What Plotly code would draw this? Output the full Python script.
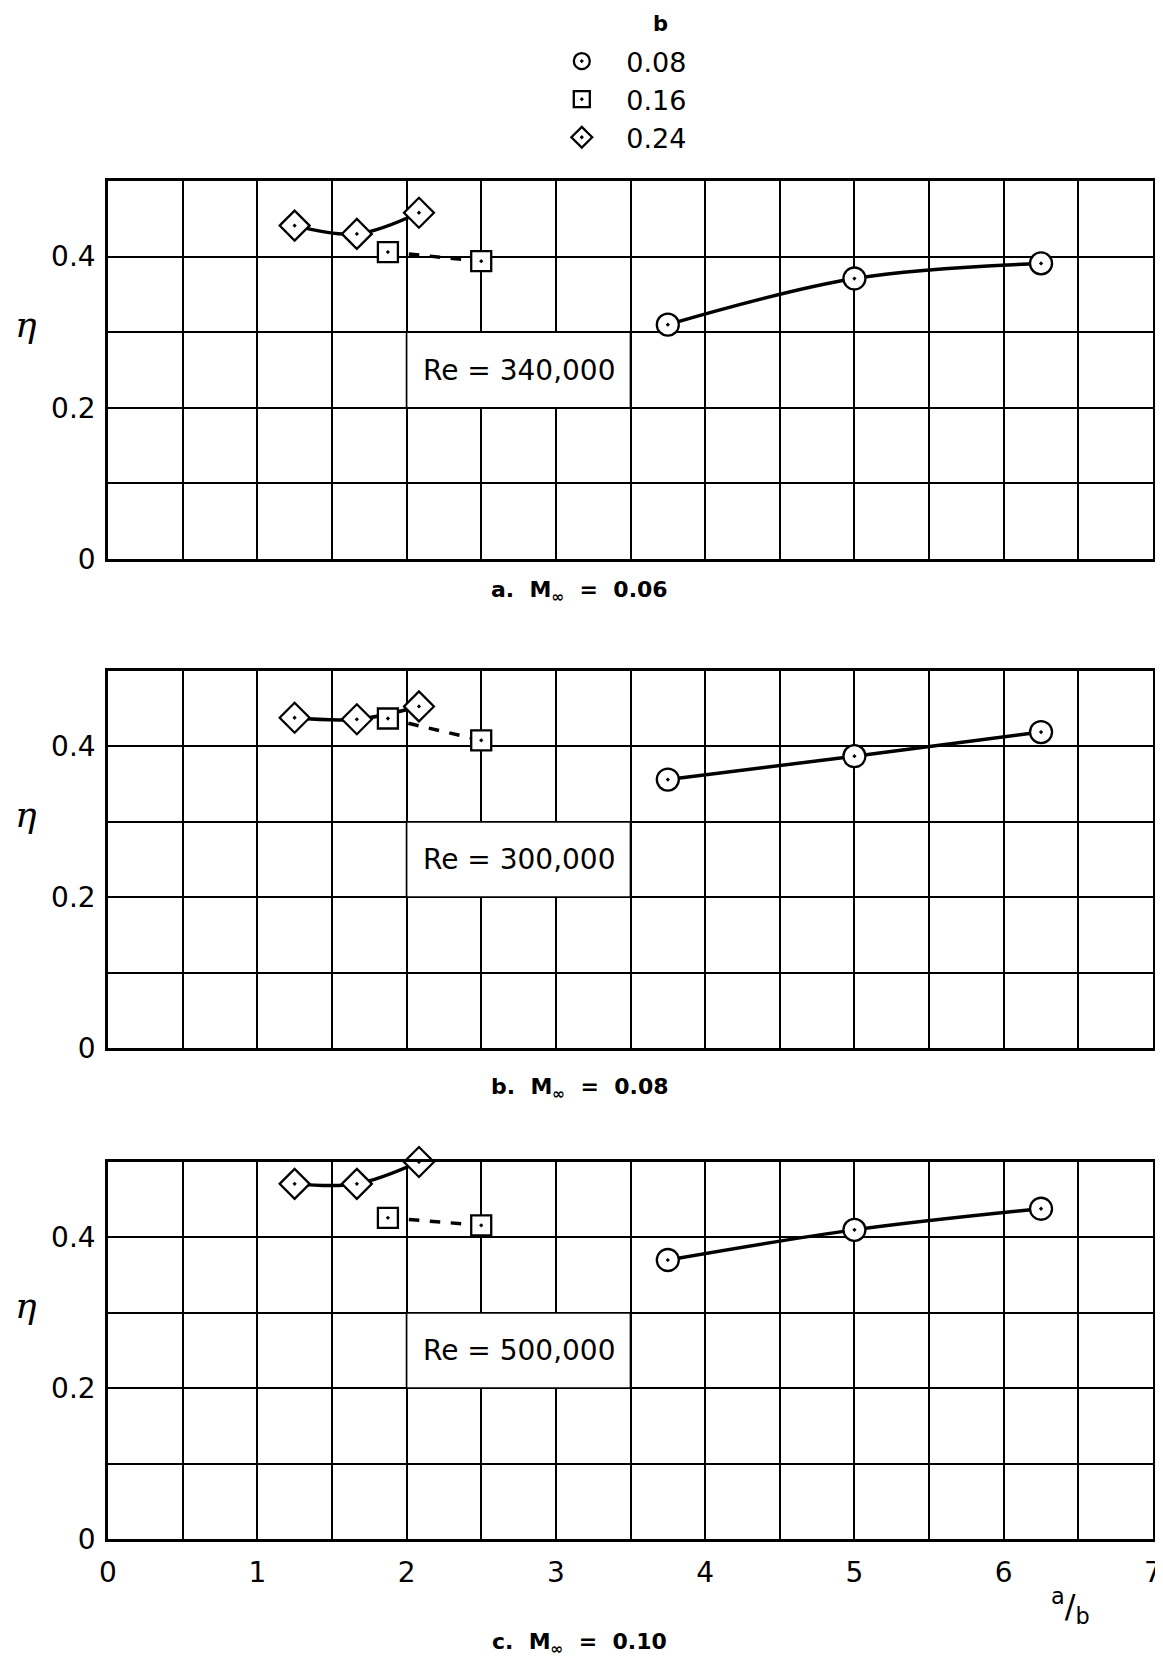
import plotly.graph_objects as go
from plotly.subplots import make_subplots

# ---------------- data ----------------
b_values = ["0.08", "0.16", "0.24"]

x_b08 = [3.75, 5.0, 6.25]
x_b16 = [1.875, 2.5]
x_b24 = [1.25, 1.667, 2.083]

eta_a_b08 = [0.310, 0.371, 0.391]
eta_a_b16 = [0.406, 0.394]
eta_a_b24 = [0.441, 0.430, 0.458]

eta_b_b08 = [0.356, 0.387, 0.419]
eta_b_b16 = [0.437, 0.408]
eta_b_b24 = [0.438, 0.436, 0.453]

eta_c_b08 = [0.370, 0.410, 0.438]
eta_c_b16 = [0.426, 0.416]
eta_c_b24 = [0.471, 0.471, 0.500]

re_labels = ["Re = 340,000", "Re = 300,000", "Re = 500,000"]
captions = ["a.  M<sub>∞</sub>  =  0.06", "b.  M<sub>∞</sub>  =  0.08", "c.  M<sub>∞</sub>  =  0.10"]
x_ticks = [0, 1, 2, 3, 4, 5, 6, 7]
y_ticks = [0, 0.2, 0.4]
y_tick_text = ["0", "0.2", "0.4"]

panels = [
    (eta_a_b08, eta_a_b16, eta_a_b24),
    (eta_b_b08, eta_b_b16, eta_b_b24),
    (eta_c_b08, eta_c_b16, eta_c_b24),
]

# ---------------- layout geometry (screen pixels, page has ~8px body margin) ----------------
OFF = 7
SCREEN_W, SCREEN_H = 1163, 1660
W, H = SCREEN_W - OFF, SCREEN_H - OFF
PLOT_L, PLOT_R, PLOT_T, PLOT_B = 107, 1161, 180, 1538
ML = PLOT_L - OFF
MR = W - (PLOT_R - OFF)
MT = PLOT_T - OFF
MB = H - (PLOT_B - OFF)
panel_px = [(180, 558), (670, 1047), (1161, 1538)]


def py(y):  # screen pixel y -> paper y
    return (PLOT_B - y) / (PLOT_B - PLOT_T)


def px(x):  # screen pixel x -> paper x
    return (x - PLOT_L) / (PLOT_R - PLOT_L)


FONT = "DejaVu Sans"
fig = make_subplots(rows=3, cols=1)

symbols = ["circle-dot", "square-dot", "diamond-dot"]
sizes = [22, 20, 23]
xs = [x_b08, x_b16, x_b24]
dashes = ["solid", "dash", "solid"]

for r, ys in enumerate(panels, start=1):
    for k in range(3):
        fig.add_trace(go.Scatter(
            x=xs[k], y=ys[k], mode="lines",
            line=dict(color="black", width=3.5, dash=dashes[k], shape="spline", smoothing=1.0),
            showlegend=False, hoverinfo="skip"), row=r, col=1)
    for k in range(3):
        fig.add_trace(go.Scatter(
            x=xs[k], y=ys[k], mode="markers", name=b_values[k],
            marker=dict(symbol=symbols[k], size=sizes[k], color="white",
                        line=dict(color="black", width=2.3)),
            cliponaxis=False, showlegend=(r == 1), legendrank=k), row=r, col=1)

axis_common = dict(showline=True, mirror=True, linecolor="black", linewidth=2.5,
                   showgrid=True, gridcolor="black", gridwidth=1.7, zeroline=False,
                   ticks="", tickfont=dict(family=FONT, size=28, color="black"))

for r in range(1, 4):
    top, bot = panel_px[r - 1]
    xa = "xaxis" if r == 1 else f"xaxis{r}"
    ya = "yaxis" if r == 1 else f"yaxis{r}"
    fig.update_layout(**{
        xa: dict(axis_common, range=[0, 7], tickvals=x_ticks, showticklabels=(r == 3),
                 minor=dict(dtick=0.5, showgrid=True, gridcolor="black", gridwidth=1.7),
                 domain=[0, 1], ticklabelstandoff=7, ticklabeloverflow="allow"),
        ya: dict(axis_common, range=[0, 0.5], tickvals=y_ticks, ticktext=y_tick_text,
                 minor=dict(dtick=0.1, showgrid=True, gridcolor="black", gridwidth=1.7),
                 domain=[py(bot), py(top)], ticklabelstandoff=4),
    })
    xr = "x" if r == 1 else f"x{r}"
    yr = "y" if r == 1 else f"y{r}"
    fig.add_shape(type="rect", xref=xr, yref=yr, x0=2.0, x1=3.5, y0=0.2, y1=0.3,
                  fillcolor="white", line=dict(color="black", width=1.7), layer="above")
    fig.add_annotation(xref=xr, yref=yr, x=2.75, y=0.25, text=re_labels[r - 1],
                       xanchor="center", yanchor="middle",
                       showarrow=False, font=dict(family=FONT, size=28, color="black"))
    fig.add_annotation(xref="paper", yref=yr, x=px(24), y=0.31, text="<i>η</i>",
                       xanchor="center", yanchor="middle",
                       showarrow=False, font=dict(family="DejaVu Serif", size=36, color="black"))
    cap_y = [590, 1087, 1642][r - 1]
    fig.add_annotation(xref="paper", yref="paper", x=px(583), y=py(cap_y),
                       text="<b>" + captions[r - 1] + "</b>",
                       xanchor="center", yanchor="middle",
                       showarrow=False, font=dict(family=FONT, size=22, color="black"))

fig.add_annotation(xref="paper", yref="paper", x=px(1078), y=py(1605),
                   text="<sup>a</sup>/<sub>b</sub>", showarrow=False,
                   xanchor="center", yanchor="middle",
                   font=dict(family=FONT, size=32, color="black"))
fig.add_annotation(xref="paper", yref="paper", x=px(664), y=py(23),
                   text="<b>b</b>", showarrow=False,
                   xanchor="center", yanchor="middle",
                   font=dict(family=FONT, size=21, color="black"))

fig.update_layout(
    width=W, height=H,
    margin=dict(l=ML, r=MR, t=MT, b=MB),
    paper_bgcolor="white", plot_bgcolor="white",
    legend=dict(x=px(540), y=py(36), xanchor="left", yanchor="top",
                font=dict(family=FONT, size=27, color="black"),
                bgcolor="rgba(0,0,0,0)", itemwidth=79, tracegroupgap=0),
)

fig.write_html("out.html")
